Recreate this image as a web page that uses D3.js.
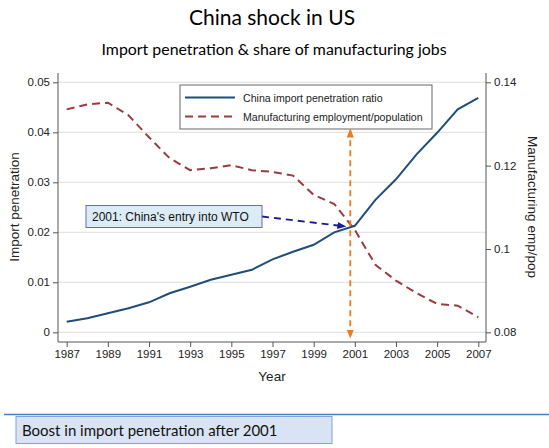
<!DOCTYPE html>
<html>
<head>
<meta charset="utf-8">
<script src="https://cdn.jsdelivr.net/npm/d3@7"></script>
<style>
  body { margin: 0; background: #fff; }
  svg { display: block; }
  .tick text { font-family: "Liberation Sans", Arial, sans-serif; font-size: 11.5px; fill: #222; }
</style>
</head>
<body>
<div class="main"></div>
<script>
// data
const years = [1987, 1988, 1989, 1990, 1991, 1992, 1993, 1994, 1995, 1996, 1997,
  1998, 1999, 2000, 2001, 2002, 2003, 2004, 2005, 2006, 2007];
const importPen = [0.0021, 0.0028, 0.0038, 0.0048, 0.006, 0.0078, 0.0091, 0.0105, 0.0115, 0.0125, 0.0146,
  0.0161, 0.0175, 0.02, 0.0213, 0.0265, 0.0306, 0.0356, 0.0399, 0.0446, 0.0469];
const mfgEmp = [0.1335, 0.1347, 0.1351, 0.1321, 0.1268, 0.1218, 0.1189, 0.1194, 0.1201, 0.1189, 0.1185,
  0.1176, 0.113, 0.1108, 0.1046, 0.0962, 0.0924, 0.0894, 0.0868, 0.0864, 0.0836];
const xTicks = [1987, 1989, 1991, 1993, 1995, 1997, 1999, 2001, 2003, 2005, 2007];
const leftTicks = [0, 0.01, 0.02, 0.03, 0.04, 0.05];
const rightTicks = [0.08, 0.1, 0.12, 0.14];
const seriesNames = ["China import penetration ratio", "Manufacturing employment/population"];

const fullwidth = 549;
const fullheight = 448;
const svg = d3.select(".main").append("svg")
  .attr("width", fullwidth)
  .attr("height", fullheight);

// plot area
const box = { left: 58, right: 486, top: 73, bottom: 342 };

const x = d3.scaleLinear().domain([1987, 2007]).range([66.7, 478.3]);
const y = d3.scaleLinear().domain([0, 0.05]).range([332.3, 82.3]);
const y2 = d3.scaleLinear().domain([0.08, 0.14]).range([332.3, 82.3]);

const blue = "#1f4e79";
const red = "#9b3b3d";

// titles
svg.append("text")
  .attr("x", 272).attr("y", 25)
  .attr("text-anchor", "middle")
  .style("font-family", "Lato, 'Open Sans', sans-serif")
  .style("font-size", "21px")
  .text("China shock in US");

svg.append("text")
  .attr("x", 274).attr("y", 55)
  .attr("text-anchor", "middle")
  .style("font-family", "Lato, 'Open Sans', sans-serif")
  .style("font-size", "15.9px")
  .text("Import penetration & share of manufacturing jobs");

// grid
svg.append("g")
  .selectAll("line")
  .data(leftTicks)
  .join("line")
  .attr("x1", box.left).attr("x2", box.right)
  .attr("y1", (d) => y(d)).attr("y2", (d) => y(d))
  .attr("stroke", "#e4e4e4")
  .attr("stroke-width", 1.2);

// axes
const xAxis = svg.append("g")
  .attr("transform", "translate(0," + box.bottom + ")")
  .call(d3.axisBottom(x).tickValues(xTicks).tickFormat(d3.format("d")).tickSizeOuter(0).tickSize(5));
xAxis.select(".domain").attr("d", "M" + box.left + ",0H" + box.right);

const yAxis = svg.append("g")
  .attr("transform", "translate(" + box.left + ",0)")
  .call(d3.axisLeft(y).tickValues(leftTicks).tickFormat((d) => d === 0 ? "0" : d3.format(".2f")(d)).tickSizeOuter(0).tickSize(5));
yAxis.select(".domain").attr("d", "M0," + box.top + "V" + box.bottom);

const y2Axis = svg.append("g")
  .attr("transform", "translate(" + box.right + ",0)")
  .call(d3.axisRight(y2).tickValues(rightTicks).tickFormat((d) => d3.format(".2f")(d).replace(/0$/, "")).tickSizeOuter(0).tickSize(5));
y2Axis.select(".domain").attr("d", "M0," + box.top + "V" + box.bottom);

svg.selectAll(".domain, .tick line").attr("stroke", "#555");

// axis titles
svg.append("text")
  .attr("x", 272).attr("y", 381)
  .attr("text-anchor", "middle")
  .style("font-family", "'Liberation Sans', Arial, sans-serif")
  .style("font-size", "13.5px")
  .style("fill", "#222")
  .text("Year");

svg.append("text")
  .attr("transform", "translate(19,207) rotate(-90)")
  .attr("text-anchor", "middle")
  .style("font-family", "'Liberation Sans', Arial, sans-serif")
  .style("font-size", "13.5px")
  .style("fill", "#222")
  .text("Import penetration");

svg.append("text")
  .attr("transform", "translate(528,207) rotate(90)")
  .attr("text-anchor", "middle")
  .style("font-family", "'Liberation Sans', Arial, sans-serif")
  .style("font-size", "13.5px")
  .style("fill", "#222")
  .text("Manufacturing emp/pop");

// series
const lineBlue = d3.line().x((d, i) => x(years[i])).y((d) => y(d));
const lineRed = d3.line().x((d, i) => x(years[i])).y((d) => y2(d));

svg.append("path")
  .datum(mfgEmp)
  .attr("fill", "none")
  .attr("stroke", red)
  .attr("stroke-width", 2)
  .attr("stroke-dasharray", "8,5")
  .attr("d", lineRed);

svg.append("path")
  .datum(importPen)
  .attr("fill", "none")
  .attr("stroke", blue)
  .attr("stroke-width", 2)
  .attr("d", lineBlue);

// markers
const defs = svg.append("defs");
function arrowHead(id, color) {
  defs.append("marker")
    .attr("id", id)
    .attr("viewBox", "0 0 10 10")
    .attr("refX", 8).attr("refY", 5)
    .attr("markerWidth", 5).attr("markerHeight", 5)
    .attr("orient", "auto-start-reverse")
    .append("path")
    .attr("d", "M0,1L10,5L0,9Z")
    .attr("fill", color);
}
arrowHead("arrOrange", "#f07a1c");
arrowHead("arrBlue", "#1a1a9a");

// orange double arrow at WTO entry
const wtoX = 2000.78;
svg.append("line")
  .attr("x1", x(wtoX)).attr("x2", x(wtoX))
  .attr("y1", y(0.0404)).attr("y2", y(-0.0009))
  .attr("stroke", "#f07a1c")
  .attr("stroke-width", 1.8)
  .attr("stroke-dasharray", "6,4")
  .attr("marker-start", "url(#arrOrange)")
  .attr("marker-end", "url(#arrOrange)");

// annotation box + arrow
svg.append("line")
  .attr("x1", 262).attr("y1", 216.5)
  .attr("x2", x(2000.5)).attr("y2", y(0.0212))
  .attr("stroke", "#1a1a9a")
  .attr("stroke-width", 1.8)
  .attr("stroke-dasharray", "7,5")
  .attr("marker-end", "url(#arrBlue)");

svg.append("rect")
  .attr("x", 86).attr("y", 205.5)
  .attr("width", 176).attr("height", 22)
  .attr("fill", "#dcecf6")
  .attr("stroke", "#6666cc")
  .attr("stroke-width", 1);

svg.append("text")
  .attr("x", 92).attr("y", 221)
  .style("font-family", "'Liberation Sans', Arial, sans-serif")
  .style("font-size", "12px")
  .style("fill", "#111")
  .text("2001: China's entry into WTO");

// legend
const lg = svg.append("g");
lg.append("rect")
  .attr("x", 180).attr("y", 85)
  .attr("width", 252).attr("height", 44)
  .attr("fill", "#fff")
  .attr("stroke", "#666")
  .attr("stroke-width", 1);

[blue, red].forEach((c, i) => {
  lg.append("line")
    .attr("x1", 185).attr("x2", 235)
    .attr("y1", 97.5 + i * 19).attr("y2", 97.5 + i * 19)
    .attr("stroke", c)
    .attr("stroke-width", 2)
    .attr("stroke-dasharray", i === 1 ? "8,5" : null);
  lg.append("text")
    .attr("x", 243).attr("y", 101.5 + i * 19)
    .style("font-family", "'Liberation Sans', Arial, sans-serif")
    .style("font-size", "10.6px")
    .style("fill", "#222")
    .text(seriesNames[i]);
});

// bottom caption
svg.append("line")
  .attr("x1", 4).attr("x2", 549)
  .attr("y1", 414.5).attr("y2", 414.5)
  .attr("stroke", "#4a7cc0")
  .attr("stroke-width", 1.5);

svg.append("rect")
  .attr("x", 16).attr("y", 416.5)
  .attr("width", 316).attr("height", 27)
  .attr("fill", "#dae3f3")
  .attr("stroke", "#7fa3da")
  .attr("stroke-width", 1);

svg.append("text")
  .attr("x", 22).attr("y", 435.5)
  .style("font-family", "Lato, 'Open Sans', sans-serif")
  .style("font-size", "15px")
  .style("fill", "#111")
  .text("Boost in import penetration after 2001");
</script>
</body>
</html>
